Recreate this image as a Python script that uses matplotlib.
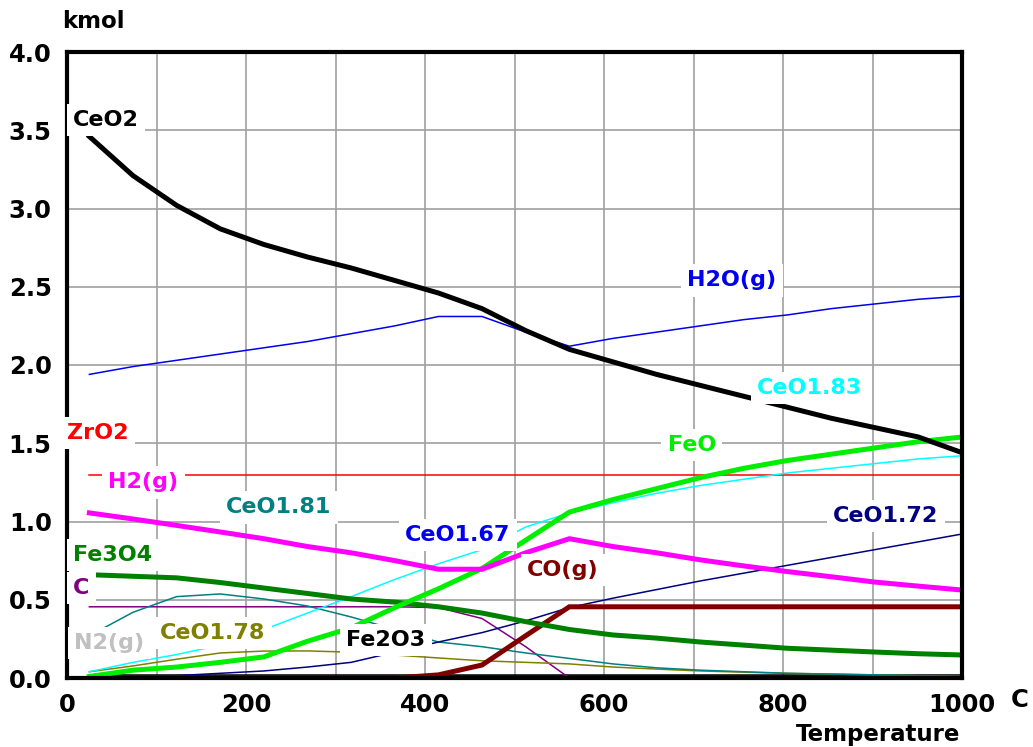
import matplotlib
matplotlib.use("Agg")
import matplotlib.pyplot as plt

plt.rcParams['font.family'] = ['DejaVu Sans']
plt.rcParams['font.weight'] = 'bold'

# Equilibrium temperatures (C)
temps = [25, 73.75, 122.5, 171.25, 220, 268.75, 317.5, 366.25, 415, 463.75,
         512.5, 561.25, 610, 658.75, 707.5, 756.25, 805, 853.75, 902.5, 951.25, 1000]

# Species amounts (kmol)
ceo2 = [3.46, 3.21, 3.02, 2.87, 2.77, 2.69, 2.62, 2.54, 2.46, 2.36,
        2.22, 2.10, 2.02, 1.94, 1.87, 1.80, 1.73, 1.66, 1.60, 1.54, 1.44]
h2o_g = [1.94, 1.99, 2.03, 2.07, 2.11, 2.15, 2.20, 2.25, 2.31, 2.31,
         2.21, 2.12, 2.17, 2.21, 2.25, 2.29, 2.32, 2.36, 2.39, 2.42, 2.44]
zro2 = [1.30] * 21
ceo183 = [0.04, 0.10, 0.15, 0.21, 0.31, 0.415, 0.52, 0.63, 0.73, 0.82,
          0.965, 1.055, 1.12, 1.18, 1.23, 1.27, 1.31, 1.34, 1.37, 1.40, 1.42]
feo = [0.01, 0.05, 0.07, 0.10, 0.135, 0.235, 0.32, 0.45, 0.57, 0.70,
       0.88, 1.06, 1.14, 1.21, 1.28, 1.34, 1.39, 1.43, 1.47, 1.51, 1.54]
h2_g = [1.055, 1.016, 0.975, 0.933, 0.89, 0.84, 0.80, 0.75, 0.695, 0.695,
        0.80, 0.89, 0.84, 0.80, 0.755, 0.716, 0.68, 0.647, 0.613, 0.587, 0.562]
ceo181 = [0.27, 0.42, 0.52, 0.537, 0.505, 0.46, 0.39, 0.31, 0.23, 0.20,
          0.16, 0.125, 0.09, 0.065, 0.05, 0.04, 0.03, 0.025, 0.02, 0.015, 0.01]
ceo172 = [0.0, 0.005, 0.015, 0.03, 0.045, 0.07, 0.10, 0.165, 0.23, 0.29,
          0.365, 0.45, 0.51, 0.565, 0.62, 0.67, 0.72, 0.77, 0.82, 0.87, 0.92]
ceo167 = [0.01] * 21
fe3o4 = [0.66, 0.65, 0.64, 0.61, 0.575, 0.54, 0.505, 0.485, 0.455, 0.415,
         0.36, 0.31, 0.275, 0.255, 0.23, 0.21, 0.19, 0.178, 0.166, 0.155, 0.147]
co_g = [0.0, 0.0, 0.0, 0.0, 0.0, 0.0, 0.0, 0.0, 0.02, 0.083,
        0.27, 0.455, 0.455, 0.455, 0.455, 0.455, 0.455, 0.455, 0.455, 0.455, 0.455]
carbon = [0.455, 0.455, 0.455, 0.455, 0.455, 0.455, 0.455, 0.455, 0.45, 0.38,
          0.20, 0.0, 0.0, 0.0, 0.0, 0.0, 0.0, 0.0, 0.0, 0.0, 0.0]
n2_g = [0.005] * 21
ceo178 = [0.04, 0.077, 0.12, 0.16, 0.172, 0.173, 0.165, 0.147, 0.128, 0.11,
          0.10, 0.09, 0.07, 0.057, 0.045, 0.037, 0.03, 0.025, 0.02, 0.015, 0.01]
fe2o3 = [0.02] * 21

# (name, values, colour, line width, label x, label y)
series = [
    ("N2(g)", n2_g, "#c0c0c0", 1.1, 8, 0.224),
    ("CeO1.67", ceo167, "#0000ee", 1.1, 378, 0.914),
    ("Fe2O3", fe2o3, "#000000", 1.1, 312, 0.243),
    ("ZrO2", zro2, "#ff0000", 1.1, 0, 1.565),
    ("C", carbon, "#800080", 1.1, 7, 0.575),
    ("CeO1.78", ceo178, "#808000", 1.1, 104, 0.288),
    ("CeO1.81", ceo181, "#008080", 1.1, 178, 1.09),
    ("CeO1.72", ceo172, "#000080", 1.1, 856, 1.035),
    ("CeO1.83", ceo183, "#00ffff", 1.1, 771, 1.853),
    ("H2O(g)", h2o_g, "#0000ee", 1.1, 693, 2.54),
    ("CO(g)", co_g, "#800000", 3.6, 514, 0.69),
    ("Fe3O4", fe3o4, "#008000", 3.6, 7, 0.786),
    ("FeO", feo, "#00ee00", 3.6, 671, 1.49),
    ("H2(g)", h2_g, "#ff00ff", 3.6, 46, 1.25),
    ("CeO2", ceo2, "#000000", 3.6, 7, 3.565),
]

fig = plt.figure(figsize=(10.33, 7.47), dpi=100)
ax = fig.add_axes([67 / 1033, 1 - 678 / 747, (962 - 67) / 1033, (678 - 52) / 747])

for name, vals, color, lw, lx, ly in series:
    ax.plot(temps, vals, color=color, lw=lw, solid_joinstyle='miter', zorder=3)
    ax.text(lx, ly, name, color=color, fontsize=16, fontweight='bold',
            ha='left', va='center', zorder=10, clip_on=False,
            bbox=dict(boxstyle='square,pad=0.28', fc='white', ec='none'))

ax.set_xlim(0, 1000)
ax.set_ylim(0, 4.0)
ax.set_xticks([0, 200, 400, 600, 800, 1000])
ax.set_yticks([0.0, 0.5, 1.0, 1.5, 2.0, 2.5, 3.0, 3.5, 4.0])
ax.set_yticklabels([f"{v:.1f}" for v in [0.0, 0.5, 1.0, 1.5, 2.0, 2.5, 3.0, 3.5, 4.0]])
ax.set_xticks(range(100, 1000, 100), minor=True)
ax.grid(True, which='both', color='#a0a0a0', lw=1.2)
ax.set_axisbelow(True)
ax.tick_params(axis='both', which='both', length=0, labelsize=17.5)
ax.tick_params(axis='x', pad=11)
ax.tick_params(axis='y', pad=11)
for lbl in ax.get_xticklabels() + ax.get_yticklabels():
    lbl.set_fontweight('bold')
for sp in ax.spines.values():
    sp.set_linewidth(3)
    sp.set_color('black')
    sp.set_zorder(5)

fig.text(62 / 1033, 1 - 22 / 747, "kmol", fontsize=16.5, fontweight='bold',
         ha='left', va='center')
fig.text(1020 / 1033, 1 - 700 / 747, "C", fontsize=17.5, fontweight='bold',
         ha='center', va='center')
fig.text(960 / 1033, 1 - 735 / 747, "Temperature", fontsize=16.5, fontweight='bold',
         ha='right', va='center')

fig.savefig("out.png", dpi=100)
